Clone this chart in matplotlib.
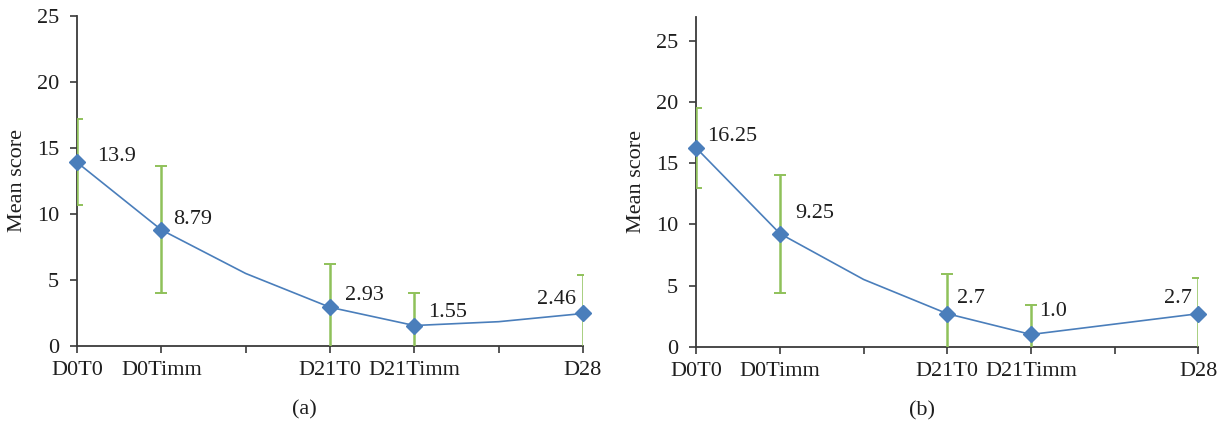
import numpy as np
import matplotlib
matplotlib.use("Agg")
import matplotlib.pyplot as plt

plt.rcParams['font.family'] = ['Liberation Serif', 'DejaVu Serif']

# x positions: 7 slots, two unlabeled in between
tick_labels = ['D0T0', 'D0Timm', '', 'D21T0', 'D21Timm', '', 'D28']
labeled = [0, 1, 3, 4, 6]

# panel (a)
mean_a = [13.9, 8.79, 5.49, 2.93, 1.55, 1.84, 2.46]
err_a = [3.25, 4.8, np.nan, 3.24, 2.48, np.nan, 2.88]
text_a = ['13.9', '8.79', '', '2.93', '1.55', '', '2.46']

# panel (b)
mean_b = [16.25, 9.25, 5.5, 2.7, 1.0, 1.85, 2.7]
err_b = [3.25, 4.83, np.nan, 3.24, 2.43, np.nan, 2.91]
text_b = ['16.25', '9.25', '', '2.7', '1.0', '', '2.7']

line_col = '#4a7ebb'
err_col = '#8fc15a'
axis_col = '#3a3a3a'
txt_col = '#1e1e1e'
fs = 16

W, H = 1226, 423
fig = plt.figure(figsize=(W / 100, H / 100), dpi=100)

def make_ax(l, r, b, t):
    return fig.add_axes([l / W, 1 - b / H, (r - l) / W, (b - t) / H])

ax_a = make_ax(77, 583, 346, 15.7)
ax_b = make_ax(696.3, 1198.3, 346.7, 16.7)

# label offsets in pixels (dx, dy, ha)
offs_a = [(20, 6, 'left'), (12, 10, 'left'), None, (15, 12, 'left'), (14, 13, 'left'), None, (-7, 14, 'right')]
offs_b = [(11, 12, 'left'), (15, 20, 'left'), None, (10, 15, 'left'), (8, 23, 'left'), None, (-6, 15, 'right')]

def draw(ax, mean, err, texts, offs, ymax, tag):
    x = np.arange(len(mean))
    m = np.array(mean)
    e = np.array(err)
    ok = ~np.isnan(e)
    ax.errorbar(x[ok], m[ok], yerr=e[ok], fmt='none', ecolor=err_col,
                elinewidth=1.8, capsize=4, capthick=1.4, zorder=4)
    ax.plot(x, m, color=line_col, lw=1.2, zorder=5)
    ax.plot(x[labeled], m[labeled], ls='none', marker='D', ms=8,
            mfc=line_col, mec=line_col, zorder=6, clip_on=False)
    for i, s in enumerate(texts):
        if offs[i] is None:
            continue
        dx, dy, ha = offs[i]
        ax.annotate(s, (x[i], m[i]), xytext=(dx, dy), textcoords='offset pixels',
                    ha=ha, va='center', fontsize=fs, color=txt_col, zorder=7)
    ax.set_xlim(0, 6)
    ax.set_ylim(0, ymax)
    ax.set_xticks(x)
    ax.set_xticklabels(tick_labels)
    ax.set_yticks([0, 5, 10, 15, 20, 25])
    for sp in ['top', 'right']:
        ax.spines[sp].set_visible(False)
    for sp in ['left', 'bottom']:
        ax.spines[sp].set_color(axis_col)
        ax.spines[sp].set_linewidth(1.3)
    ax.tick_params(axis='both', direction='out', length=5, width=1.2,
                   color=axis_col, labelsize=fs, labelcolor=txt_col)
    ax.tick_params(axis='x', pad=6)
    ax.tick_params(axis='y', pad=8)
    ax.set_ylabel('Mean score', fontsize=fs, color=txt_col, labelpad=7)
    ax.text(0.449, -0.194, tag, transform=ax.transAxes, ha='center', va='center',
            fontsize=fs, color=txt_col)

draw(ax_a, mean_a, err_a, text_a, offs_a, 25, '(a)')
draw(ax_b, mean_b, err_b, text_b, offs_b, 27, '(b)')

fig.savefig('out.png', dpi=100, facecolor='white')
